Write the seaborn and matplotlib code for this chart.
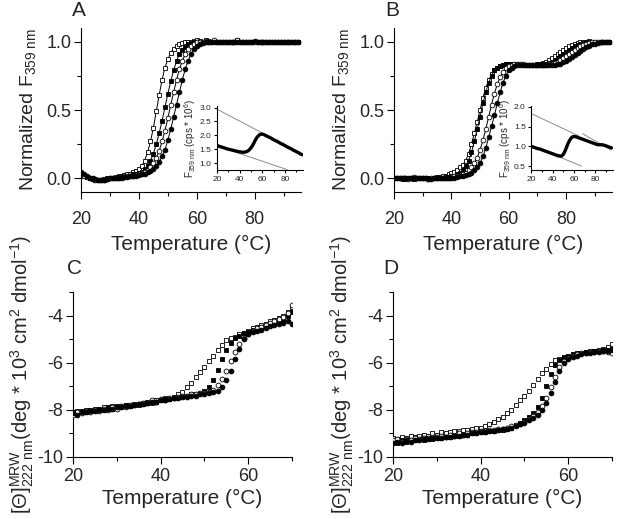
import matplotlib
matplotlib.use("Agg")
import matplotlib.pyplot as plt
import seaborn as sns
from matplotlib.ticker import MultipleLocator

# --- data: temperature grids (deg C) ---
temp_ab = [20, 21, 22, 23, 24, 25, 26, 27, 28, 29, 30, 31, 32, 33, 34, 35, 36, 37, 38, 39,
           40, 41, 42, 43, 44, 45, 46, 47, 48, 49, 50, 51, 52, 53, 54, 55, 56, 57, 58, 59,
           60, 61, 62, 63, 64, 65, 66, 67, 68, 69, 70, 71, 72, 73, 74, 75, 76, 77, 78, 79,
           80, 81, 82, 83, 84, 85, 86, 87, 88, 89, 90, 91, 92, 93, 94, 95]
temp_cd = [20, 21, 22, 23, 24, 25, 26, 27, 28, 29, 30, 31, 32, 33, 34, 35, 36, 37, 38, 39,
           40, 41, 42, 43, 44, 45, 46, 47, 48, 49, 50, 51, 52, 53, 54, 55, 56, 57, 58, 59,
           60, 61, 62, 63, 64, 65, 66, 67, 68, 69, 70]

# --- panel A: normalized fluorescence ---
a_sq_open = [0.03, 0.02, 0.01, 0.0, -0.005, -0.01, -0.01, -0.01, -0.005, 0.0,
             0.0, 0.005, 0.01, 0.015, 0.02, 0.025, 0.03, 0.035, 0.045, 0.055,
             0.07, 0.09, 0.13, 0.19, 0.27, 0.37, 0.49, 0.61, 0.72, 0.81,
             0.87, 0.92, 0.95, 0.97, 0.98, 0.99, 0.995, 1.0, 1.0, 1.005,
             1.01, 1.005, 1.0, 1.01, 1.0, 1.0, 1.0, 1.0, 1.0, 1.0,
             1.0, 1.0, 1.0, 1.0, 1.01, 1.0, 1.0, 1.0, 1.0, 1.0,
             1.0, 1.0, 1.0, 1.0, 1.0, 1.0, 1.0, 1.0, 1.0, 1.0,
             1.0, 1.0, 1.0, 1.0, 1.0, 1.0]
a_sq_fill = [0.04, 0.025, 0.01, 0.0, -0.005, -0.01, -0.01, -0.015, -0.01, -0.005,
             0.0, 0.0, 0.005, 0.01, 0.01, 0.015, 0.02, 0.02, 0.03, 0.03,
             0.04, 0.05, 0.07, 0.09, 0.13, 0.18, 0.25, 0.33, 0.42, 0.52,
             0.62, 0.71, 0.79, 0.86, 0.91, 0.94, 0.96, 0.98, 0.99, 0.995,
             1.0, 1.0, 1.0, 1.0, 1.005, 1.0, 1.0, 1.0, 1.0, 1.0,
             1.0, 1.0, 1.0, 1.0, 1.0, 1.0, 1.0, 1.0, 1.0, 1.0,
             1.0, 1.0, 1.0, 1.0, 1.0, 1.0, 1.0, 1.0, 1.0, 1.0,
             1.0, 1.0, 1.0, 1.0, 1.0, 1.0]
a_circ_open = [0.03, 0.02, 0.01, 0.0, -0.005, -0.01, -0.01, -0.01, -0.01, -0.005,
               0.0, 0.0, 0.005, 0.005, 0.01, 0.015, 0.015, 0.02, 0.02, 0.025,
               0.03, 0.04, 0.05, 0.06, 0.08, 0.11, 0.15, 0.2, 0.27, 0.35,
               0.44, 0.54, 0.63, 0.72, 0.8, 0.86, 0.91, 0.95, 0.97, 0.985,
               0.995, 1.0, 1.0, 1.005, 1.0, 1.0, 1.01, 1.0, 1.0, 1.0,
               1.0, 1.0, 1.0, 1.0, 1.015, 1.0, 1.0, 1.0, 1.0, 1.0,
               1.0, 1.0, 1.0, 1.0, 1.0, 1.0, 1.0, 1.0, 1.0, 1.0,
               1.0, 1.0, 1.0, 1.0, 1.0, 1.0]
a_circ_fill = [0.05, 0.03, 0.015, 0.005, 0.0, -0.005, -0.01, -0.01, -0.01, -0.005,
               0.0, 0.0, 0.0, 0.005, 0.005, 0.01, 0.01, 0.015, 0.02, 0.02,
               0.025, 0.03, 0.035, 0.045, 0.055, 0.07, 0.09, 0.12, 0.16, 0.21,
               0.28, 0.36, 0.45, 0.54, 0.63, 0.72, 0.8, 0.86, 0.91, 0.95,
               0.97, 0.985, 0.99, 0.995, 1.0, 1.0, 1.0, 1.0, 1.0, 1.0,
               1.0, 1.0, 1.0, 1.0, 1.0, 1.0, 1.0, 1.0, 1.0, 1.0,
               1.005, 1.0, 1.0, 1.0, 1.0, 1.0, 1.0, 1.0, 1.0, 1.0,
               1.0, 1.0, 1.0, 1.0, 1.0, 1.0]

# --- panel B: normalized fluorescence (two transitions) ---
b_sq_open = [0.0, 0.005, 0.0, 0.0, -0.005, 0.0, 0.0, 0.005, 0.0, 0.0,
             0.0, 0.0, 0.0, 0.0, 0.005, 0.01, 0.01, 0.015, 0.02, 0.03,
             0.04, 0.05, 0.06, 0.08, 0.1, 0.13, 0.18, 0.25, 0.33, 0.41,
             0.5, 0.59, 0.66, 0.72, 0.76, 0.79, 0.81, 0.825, 0.83, 0.835,
             0.84, 0.84, 0.84, 0.84, 0.835, 0.83, 0.83, 0.83, 0.83, 0.83,
             0.835, 0.84, 0.845, 0.855, 0.865, 0.88, 0.895, 0.91, 0.925, 0.94,
             0.955, 0.965, 0.975, 0.985, 0.99, 0.995, 1.0, 1.0, 1.005, 1.0,
             1.0, 1.0, 1.0, 1.0, 1.0, 1.0]
b_sq_fill = [0.005, 0.0, 0.0, -0.005, 0.0, 0.0, 0.0, -0.005, 0.0, 0.0,
             0.0, 0.0, 0.0, 0.0, 0.0, 0.005, 0.005, 0.005, 0.01, 0.01,
             0.015, 0.02, 0.03, 0.04, 0.06, 0.09, 0.13, 0.19, 0.27, 0.36,
             0.45, 0.55, 0.63, 0.7, 0.75, 0.79, 0.81, 0.82, 0.83, 0.835,
             0.84, 0.84, 0.835, 0.835, 0.835, 0.83, 0.83, 0.83, 0.83, 0.83,
             0.83, 0.835, 0.835, 0.84, 0.845, 0.855, 0.865, 0.88, 0.895, 0.91,
             0.925, 0.94, 0.955, 0.965, 0.975, 0.985, 0.99, 0.995, 1.0, 1.0,
             1.0, 1.0, 1.0, 1.0, 1.0, 1.0]
b_circ_open = [0.0, 0.0, 0.0, 0.0, 0.0, -0.005, 0.0, 0.01, 0.0, 0.0,
               0.0, 0.0, -0.005, 0.0, 0.0, 0.0, 0.0, 0.005, 0.005, 0.005,
               0.01, 0.015, 0.02, 0.025, 0.03, 0.04, 0.06, 0.08, 0.11, 0.15,
               0.21, 0.28, 0.36, 0.45, 0.54, 0.62, 0.69, 0.74, 0.78, 0.81,
               0.825, 0.83, 0.835, 0.835, 0.835, 0.835, 0.83, 0.83, 0.83, 0.83,
               0.83, 0.83, 0.83, 0.83, 0.835, 0.84, 0.845, 0.855, 0.865, 0.88,
               0.895, 0.91, 0.925, 0.94, 0.955, 0.965, 0.975, 0.985, 0.99, 0.995,
               1.0, 1.0, 1.0, 1.0, 1.0, 1.0]
b_circ_fill = [0.0, 0.0, 0.0, 0.0, 0.0, 0.0, 0.0, 0.0, 0.0, 0.0,
               0.0, 0.0, -0.005, -0.005, 0.0, 0.0, 0.0, 0.0, 0.0, 0.0,
               0.005, 0.005, 0.01, 0.015, 0.02, 0.025, 0.03, 0.04, 0.06, 0.08,
               0.11, 0.16, 0.22, 0.3, 0.38, 0.46, 0.55, 0.63, 0.7, 0.75,
               0.79, 0.81, 0.825, 0.83, 0.83, 0.83, 0.83, 0.83, 0.83, 0.83,
               0.83, 0.83, 0.83, 0.83, 0.83, 0.83, 0.83, 0.835, 0.84, 0.85,
               0.86, 0.875, 0.89, 0.905, 0.92, 0.935, 0.95, 0.96, 0.97, 0.98,
               0.985, 0.99, 0.995, 1.0, 1.0, 1.0]

# --- panel C: mean residue ellipticity at 222 nm (x 10^3) ---
c_sq_open = [-8.15, -8.05, -8.1, -8.0, -8.05, -7.95, -8.0, -7.9, -7.95, -7.85,
             -7.9, -7.85, -7.8, -7.85, -7.75, -7.8, -7.7, -7.65, -7.7, -7.6,
             -7.6, -7.5, -7.55, -7.45, -7.35, -7.25, -7.05, -6.85, -6.6, -6.4,
             -6.2, -5.95, -5.7, -5.45, -5.25, -5.05, -4.95, -4.9, -4.8, -4.75,
             -4.65, -4.55, -4.5, -4.4, -4.35, -4.25, -4.2, -4.1, -4.0, -3.85, -3.65]
c_sq_fill = [-8.1, -8.15, -8.05, -8.1, -8.0, -8.05, -7.95, -8.0, -7.9, -7.95,
             -7.85, -7.9, -7.8, -7.85, -7.8, -7.75, -7.75, -7.7, -7.65, -7.65,
             -7.6, -7.55, -7.55, -7.5, -7.45, -7.45, -7.4, -7.35, -7.35, -7.3,
             -7.2, -7.05, -6.75, -6.3, -5.85, -5.45, -5.15, -4.95, -4.85, -4.75,
             -4.7, -4.6, -4.55, -4.5, -4.45, -4.35, -4.3, -4.2, -4.15, -4.0, -3.85]
c_circ_open = [-8.2, -8.1, -8.15, -8.05, -8.1, -8.0, -8.05, -7.95, -8.0, -7.9,
               -7.95, -7.85, -7.9, -7.8, -7.8, -7.75, -7.7, -7.7, -7.6, -7.65,
               -7.55, -7.6, -7.5, -7.5, -7.45, -7.4, -7.4, -7.35, -7.35, -7.3,
               -7.3, -7.25, -7.15, -6.95, -6.7, -6.35, -5.95, -5.55, -5.2, -4.95,
               -4.8, -4.65, -4.55, -4.5, -4.4, -4.3, -4.25, -4.15, -4.05, -3.9, -3.55]
c_circ_fill = [-8.15, -8.2, -8.1, -8.1, -8.05, -8.05, -8.0, -8.0, -7.95, -7.95,
               -7.9, -7.9, -7.85, -7.85, -7.8, -7.75, -7.75, -7.7, -7.65, -7.65,
               -7.6, -7.6, -7.55, -7.5, -7.5, -7.45, -7.45, -7.4, -7.4, -7.35,
               -7.35, -7.3, -7.25, -7.2, -7.05, -6.75, -6.35, -5.85, -5.4, -5.0,
               -4.8, -4.7, -4.65, -4.6, -4.55, -4.45, -4.4, -4.35, -4.3, -4.25, -4.35]

# --- panel D ---
d_sq_open = [-9.2, -9.25, -9.15, -9.2, -9.1, -9.15, -9.1, -9.05, -9.1, -9.0,
             -9.05, -8.95, -9.0, -8.95, -8.9, -8.9, -8.85, -8.85, -8.8, -8.75,
             -8.75, -8.7, -8.6, -8.5, -8.4, -8.3, -8.15, -8.0, -7.8, -7.6,
             -7.4, -7.2, -6.95, -6.7, -6.45, -6.25, -6.05, -5.9, -5.85, -5.8,
             -5.75, -5.7, -5.65, -5.6, -5.55, -5.5, -5.5, -5.45, -5.4, -5.35, -5.2]
d_sq_fill = [-9.35, -9.4, -9.3, -9.35, -9.3, -9.3, -9.25, -9.3, -9.2, -9.25,
             -9.2, -9.2, -9.15, -9.15, -9.1, -9.1, -9.05, -9.05, -9.0, -9.0,
             -8.95, -8.95, -8.9, -8.9, -8.85, -8.85, -8.8, -8.75, -8.65, -8.55,
             -8.45, -8.3, -8.15, -7.9, -7.5, -7.0, -6.5, -6.1, -5.9, -5.75,
             -5.7, -5.65, -5.6, -5.6, -5.55, -5.55, -5.5, -5.5, -5.45, -5.45, -5.4]
d_circ_open = [-9.3, -9.25, -9.35, -9.25, -9.3, -9.2, -9.25, -9.2, -9.2, -9.15,
               -9.15, -9.1, -9.15, -9.05, -9.1, -9.0, -9.05, -9.0, -8.95, -8.95,
               -8.9, -8.9, -8.85, -8.85, -8.8, -8.8, -8.75, -8.7, -8.65, -8.6,
               -8.5, -8.4, -8.25, -8.1, -7.85, -7.5, -7.05, -6.6, -6.2, -5.95,
               -5.8, -5.7, -5.65, -5.6, -5.6, -5.55, -5.55, -5.5, -5.5, -5.55, -5.6]
d_circ_fill = [-9.4, -9.35, -9.4, -9.3, -9.35, -9.3, -9.3, -9.25, -9.25, -9.2,
               -9.2, -9.2, -9.15, -9.15, -9.1, -9.1, -9.05, -9.05, -9.0, -9.0,
               -8.95, -8.95, -8.9, -8.9, -8.85, -8.8, -8.8, -8.75, -8.7, -8.6,
               -8.55, -8.45, -8.35, -8.2, -8.0, -7.7, -7.3, -6.8, -6.35, -6.0,
               -5.85, -5.75, -5.7, -5.65, -5.6, -5.6, -5.55, -5.55, -5.5, -5.5, -5.45]

# --- insets: raw fluorescence (cps * 10^6) ---
inset_a = [1.63, 1.62, 1.60, 1.59, 1.58, 1.56, 1.55, 1.54, 1.52, 1.51,
           1.50, 1.49, 1.48, 1.47, 1.46, 1.45, 1.44, 1.43, 1.42, 1.41,
           1.40, 1.40, 1.39, 1.39, 1.39, 1.40, 1.41, 1.43, 1.46, 1.50,
           1.55, 1.61, 1.68, 1.76, 1.84, 1.91, 1.96, 2.00, 2.03, 2.04,
           2.04, 2.03, 2.01, 1.99, 1.97, 1.95, 1.93, 1.91, 1.89, 1.86,
           1.84, 1.82, 1.80, 1.78, 1.76, 1.73, 1.71, 1.69, 1.67, 1.65,
           1.63, 1.60, 1.58, 1.56, 1.54, 1.52, 1.50, 1.47, 1.45, 1.43,
           1.41, 1.39, 1.37, 1.34, 1.32, 1.30]
inset_b = [1.00, 0.99, 0.98, 0.97, 0.96, 0.95, 0.94, 0.94, 0.93, 0.92,
           0.91, 0.90, 0.89, 0.88, 0.87, 0.86, 0.85, 0.84, 0.83, 0.82,
           0.81, 0.80, 0.79, 0.78, 0.77, 0.76, 0.76, 0.75, 0.75, 0.77,
           0.80, 0.85, 0.91, 0.98, 1.05, 1.11, 1.16, 1.20, 1.23, 1.245,
           1.25, 1.245, 1.24, 1.23, 1.22, 1.21, 1.20, 1.19, 1.18, 1.17,
           1.16, 1.15, 1.14, 1.13, 1.12, 1.11, 1.10, 1.09, 1.08, 1.07,
           1.06, 1.05, 1.045, 1.04, 1.04, 1.04, 1.04, 1.035, 1.03, 1.02,
           1.01, 1.00, 0.99, 0.98, 0.97, 0.96]
# baseline fits (grey lines): (temps, values)
base_a_upper = ([20, 62], [2.94, 2.04])
base_a_lower = ([20, 82], [1.62, 0.76])
base_b_mid = ([20, 64], [1.83, 1.27])
base_b_lower = ([38, 67], [0.82, 0.50])
base_b_upper = ([68, 95], [1.32, 0.90])

sns.set_style("ticks")
plt.rcParams['font.family'] = ['Liberation Sans', 'DejaVu Sans']
plt.rcParams['mathtext.fontset'] = 'custom'
plt.rcParams['mathtext.rm'] = 'Liberation Sans'
plt.rcParams['mathtext.it'] = 'Liberation Sans:italic'
plt.rcParams['mathtext.bf'] = 'Liberation Sans:bold'
plt.rcParams['axes.unicode_minus'] = False

fig = plt.figure(figsize=(6.2, 5.19), dpi=100)
ax_a = fig.add_axes([0.1306, 0.630, 0.355, 0.316])
ax_b = fig.add_axes([0.6355, 0.630, 0.3516, 0.316])
ax_c = fig.add_axes([0.1177, 0.1195, 0.3532, 0.318])
ax_d = fig.add_axes([0.6339, 0.1195, 0.3532, 0.318])

# marker styles: (marker, facecolor)
styles = [('s', 'white'), ('s', 'black'), ('o', 'white'), ('o', 'black')]


def style_axes(ax, fs=12.5, major=5, minor=3, xpad=2):
    sns.despine(ax=ax)
    ax.tick_params(axis='both', which='major', direction='out', length=major,
                   width=0.8, labelsize=fs, color='black', pad=2)
    ax.tick_params(axis='x', which='major', pad=xpad)
    ax.tick_params(axis='both', which='minor', direction='out', length=minor,
                   width=0.8, color='black')
    for s in ['left', 'bottom']:
        ax.spines[s].set_color('black')
        ax.spines[s].set_linewidth(0.8)


# top panels: lines with markers
for ax, series in [(ax_a, [a_sq_open, a_sq_fill, a_circ_open, a_circ_fill]),
                   (ax_b, [b_sq_open, b_sq_fill, b_circ_open, b_circ_fill])]:
    for (mk, fc), vals in zip(styles, series):
        sns.lineplot(x=temp_ab, y=vals, ax=ax, color='black', lw=0.7,
                     marker=mk, markersize=3.4, mfc=fc, mec='black', mew=0.6)
    ax.set_xlim(20, 96)
    ax.set_ylim(-0.1, 1.1)
    ax.set_xticks([20, 40, 60, 80])
    ax.xaxis.set_minor_locator(MultipleLocator(10))
    ax.set_yticks([0.0, 0.5, 1.0])
    ax.set_yticklabels(['0.0', '0.5', '1.0'])
    ax.yaxis.set_minor_locator(MultipleLocator(0.25))
    ax.set_xlabel('Temperature (°C)', fontsize=15, labelpad=5)
    ax.set_ylabel(r'Normalized F$_{\rm 359\ nm}$', fontsize=14, labelpad=6)
    style_axes(ax, fs=13, xpad=9)

# bottom panels: scatter
for ax, series in [(ax_c, [c_sq_open, c_sq_fill, c_circ_open, c_circ_fill]),
                   (ax_d, [d_sq_open, d_sq_fill, d_circ_open, d_circ_fill])]:
    for (mk, fc), vals in zip(styles, series):
        sns.scatterplot(x=temp_cd, y=vals, ax=ax, marker=mk, s=12, color=fc,
                        edgecolor='black', linewidth=0.6, zorder=3)
    ax.set_xlim(20, 70)
    ax.set_ylim(-10, -3)
    ax.set_xticks([20, 40, 60])
    ax.xaxis.set_minor_locator(MultipleLocator(10))
    ax.set_yticks([-10, -8, -6, -4])
    ax.yaxis.set_minor_locator(MultipleLocator(1))
    ax.set_xlabel('Temperature (°C)', fontsize=15, labelpad=3)
    ax.set_ylabel(r'$[\Theta]^{\rm MRW}_{\rm 222\ nm}$(deg * 10$^3$ cm$^2$ dmol$^{-1}$)',
                  fontsize=14.5, labelpad=1)
    style_axes(ax, fs=13, xpad=3)

# insets
in_a = fig.add_axes([0.350, 0.6725, 0.139, 0.123])
in_b = fig.add_axes([0.857, 0.6725, 0.131, 0.123])
for ax, vals, lines, ylim, yt in [
        (in_a, inset_a, [base_a_upper, base_a_lower], (0.75, 3.05), [1.0, 1.5, 2.0, 2.5, 3.0]),
        (in_b, inset_b, [base_b_mid, base_b_lower, base_b_upper], (0.4, 2.02), [0.5, 1.0, 1.5, 2.0])]:
    for xs, ys in lines:
        sns.lineplot(x=xs, y=ys, ax=ax, color='0.55', lw=0.7)
    sns.lineplot(x=temp_ab, y=vals, ax=ax, color='black', lw=2.4)
    ax.set_xlim(20, 96)
    ax.set_ylim(*ylim)
    ax.set_xticks([20, 40, 60, 80])
    ax.xaxis.set_minor_locator(MultipleLocator(10))
    ax.set_yticks(yt)
    ax.set_yticklabels([f'{v:.1f}' for v in yt])
    ax.set_ylabel(r'F$_{\rm 359\ nm}$ (cps * 10$^6$)', fontsize=7, labelpad=1)
    ax.set_xlabel('')
    ax.patch.set_alpha(0)
    style_axes(ax, fs=6, major=2, minor=1.2, xpad=2)

# panel letters
for txt, x, y in [('A', 0.116, 0.979), ('B', 0.621, 0.979), ('C', 0.108, 0.482), ('D', 0.618, 0.482)]:
    fig.text(x, y, txt, fontsize=15, ha='left', va='center')

fig.savefig('out.png', dpi=100)
